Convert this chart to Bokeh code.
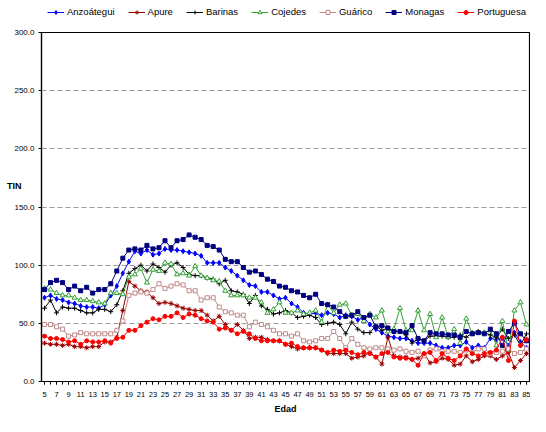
from bokeh.plotting import figure
from bokeh.layouts import column
from bokeh.models import Range1d, FixedTicker, Legend, LegendItem, LinearAxis, NumeralTickFormatter
from bokeh.embed import file_html
from bokeh.resources import INLINE

ages = list(range(5, 86))

anzoategui = [72, 74, 71, 70, 68, 67, 65, 64, 64, 63, 66, 74, 82, 93, 103, 112, 110, 113, 109, 110,
              114, 113, 113, 112, 111, 110, 108, 102, 102, 102, 98, 95, 91, 87, 83, 82, 77, 77, 74, 71,
              72, 67, 64, 59, 58, 59, 57, 59, 58, 55, 57, 56, 53, 55, 49, 45, 42, 39, 38, 37,
              37, 35, 33, 33, 33, 31, 29, 29, 31, 31, 34, 29, 31, 29, 37, 36, 37, 31, 42, 34, 29]
apure = [33, 32, 32, 31, 32, 30, 30, 29, 30, 30, 34, 34, 38, 61, 86, 82, 78, 77, 72, 67,
         68, 67, 65, 63, 62, 61, 61, 57, 52, 56, 49, 44, 49, 44, 37, 38, 38, 36, 35, 35,
         32, 30, 28, 29, 29, 29, 27, 24, 24, 24, 24, 20, 21, 22, 25, 21, 15, 38, 22, 21,
         21, 19, 20, 24, 16, 17, 20, 19, 14, 15, 22, 17, 19, 22, 22, 19, 22, 25, 12, 18, 24]
barinas = [63, 70, 59, 64, 63, 63, 61, 59, 59, 62, 62, 60, 66, 78, 93, 97, 100, 95, 101, 98,
           94, 100, 102, 98, 92, 91, 91, 89, 88, 84, 87, 78, 77, 75, 67, 74, 65, 62, 58, 59,
           61, 59, 55, 56, 57, 55, 49, 50, 51, 49, 41, 51, 45, 42, 42, 48, 44, 46, 43, 43,
           40, 33, 37, 35, 39, 39, 39, 38, 38, 40, 38, 42, 43, 42, 40, 38, 45, 37, 40, 31, 41]
cojedes = [80, 79, 76, 74, 74, 72, 70, 70, 69, 68, 67, 76, 76, 75, 90, 92, 97, 85, 96, 95,
           102, 101, 92, 93, 91, 99, 91, 89, 87, 86, 78, 74, 74, 74, 72, 72, 68, 59, 62, 68,
           59, 59, 61, 58, 59, 61, 51, 66, 59, 66, 67, 57, 58, 52, 58, 55, 61, 43, 45, 63,
           44, 44, 61, 44, 58, 38, 55, 38, 45, 33, 54, 41, 42, 42, 44, 31, 52, 27, 61, 68, 49]
guarico = [49, 49, 47, 45, 39, 40, 42, 41, 41, 41, 41, 41, 44, 52, 74, 76, 77, 76, 79, 84,
           80, 82, 84, 83, 78, 78, 70, 72, 72, 64, 60, 59, 57, 57, 47, 51, 49, 47, 44, 41,
           41, 39, 41, 35, 34, 35, 37, 37, 43, 37, 29, 37, 32, 29, 28, 29, 29, 28, 27, 28,
           26, 25, 26, 22, 27, 28, 26, 26, 26, 25, 27, 25, 28, 28, 24, 25, 26, 28, 24, 25, 28]
monagas = [79, 85, 87, 85, 79, 82, 78, 81, 76, 79, 79, 84, 95, 106, 113, 114, 113, 117, 114, 115,
           121, 115, 121, 122, 126, 124, 122, 117, 116, 113, 105, 103, 103, 98, 94, 95, 92, 88, 86, 82,
           81, 78, 77, 74, 72, 75, 67, 66, 64, 60, 56, 57, 60, 55, 57, 47, 48, 46, 43, 43,
           42, 48, 37, 35, 42, 41, 41, 40, 40, 38, 43, 41, 42, 41, 45, 41, 31, 43, 50, 41, 35]
portuguesa = [39, 37, 37, 36, 34, 35, 32, 35, 34, 34, 35, 33, 37, 38, 44, 44, 48, 51, 54, 53,
              56, 56, 59, 55, 58, 57, 54, 52, 51, 45, 46, 44, 41, 43, 41, 37, 35, 35, 35, 35,
              32, 33, 30, 29, 29, 29, 27, 25, 27, 26, 27, 25, 23, 25, 24, 21, 24, 25, 21, 20,
              20, 19, 14, 24, 25, 18, 24, 20, 18, 22, 28, 24, 22, 24, 25, 27, 38, 18, 52, 31, 36]

names = ["Anzoátegui", "Apure", "Barinas", "Cojedes", "Guárico", "Monagas", "Portuguesa"]
series = [anzoategui, apure, barinas, cojedes, guarico, monagas, portuguesa]
colors = ["#0000FF", "#990000", "#000000", "#33A033", "#C08A8A", "#000080", "#FF0000"]
markers = ["diamond", "asterisk", "cross", "triangle", "square", "square", "circle"]
sizes = [5, 5, 5, 5, 4, 4, 4]
fills = [True, False, False, False, False, True, True]

odd_ticks = list(range(5, 86, 2))
y_ticks = [0, 50, 100, 150, 200, 250, 300]
grid_ticks = [50, 100, 150, 200, 250]
y_title = "TIN"
y_title_pos = 168

FONT = "Liberation Sans"
W = 530
LEG_H = 22
MAIN_H = 416 - LEG_H

# ---- legend strip (separate figure so the legend is not clipped) ----
lf = figure(width=W, height=LEG_H, output_backend="svg", toolbar_location=None,
            x_range=Range1d(0, 1), y_range=Range1d(0, 1),
            min_border_left=0, min_border_right=0, min_border_top=0, min_border_bottom=0)
lf.axis.visible = False
lf.grid.visible = False
lf.outline_line_color = None
lf.background_fill_color = "white"
lf.border_fill_color = "white"

# ---- main chart ----
p = figure(width=W, height=MAIN_H, output_backend="svg", toolbar_location=None,
           x_range=Range1d(4.5, 85.5), y_range=Range1d(0, 300),
           min_border_left=41, min_border_right=1, min_border_top=32 - LEG_H, min_border_bottom=35)

p.background_fill_color = "white"
p.border_fill_color = "white"
p.outline_line_color = "black"
p.outline_line_width = 1.2

p.xgrid.grid_line_color = None
p.ygrid.ticker = FixedTicker(ticks=grid_ticks)
p.ygrid.grid_line_color = "#9a9a9a"
p.ygrid.grid_line_dash = "5 3"
p.ygrid.grid_line_width = 1

p.xaxis.ticker = FixedTicker(ticks=odd_ticks, minor_ticks=ages)
p.yaxis.ticker = FixedTicker(ticks=y_ticks)
p.yaxis.formatter = NumeralTickFormatter(format="0.0")

for ax in (p.xaxis[0], p.yaxis[0]):
    ax.axis_line_color = "black"
    ax.axis_line_width = 1.2
    ax.major_tick_line_color = "black"
    ax.minor_tick_line_color = "black"
    ax.major_tick_in = 0
    ax.major_tick_out = 3
    ax.minor_tick_in = 0
    ax.minor_tick_out = 3
    ax.major_label_text_font = FONT
    ax.major_label_text_color = "#000000"

p.yaxis.minor_tick_line_color = None
p.yaxis.major_label_text_font_size = "8px"
p.yaxis.major_label_standoff = 4
p.xaxis.major_label_text_font_size = "7.5px"
p.xaxis.major_label_standoff = 7

p.xaxis.axis_label = "Edad"
p.xaxis.axis_label_text_font = FONT
p.xaxis.axis_label_text_font_size = "9px"
p.xaxis.axis_label_text_font_style = "bold"
p.xaxis.axis_label_text_color = "#000000"
p.xaxis.axis_label_standoff = 4

# horizontal "TIN" title as a second, line-less left axis
tin_axis = LinearAxis(ticker=FixedTicker(ticks=[y_title_pos]),
                      major_label_overrides={y_title_pos: y_title},
                      axis_line_color=None, major_tick_line_color=None,
                      minor_tick_line_color=None, major_tick_out=0, major_tick_in=0,
                      minor_tick_out=0, minor_tick_in=0,
                      major_label_standoff=-10,
                      major_label_text_font=FONT, major_label_text_font_size="9px",
                      major_label_text_font_style="bold", major_label_text_color="#000000")
p.add_layout(tin_axis, "left")

items = []
for name, ys, col, mk, sz, filled in zip(names, series, colors, markers, sizes, fills):
    fc = col if filled else "white"
    p.line(ages, ys, line_color=col, line_width=1)
    p.scatter(ages, ys, marker=mk, size=sz, line_color=col, fill_color=fc, line_width=1)
    # legend sample glyphs: one point far outside the strip's visible range
    lr = lf.line([-5, -4], [-5, -5], line_color=col, line_width=1)
    sr = lf.scatter([-5], [-5], marker=mk, size=sz, line_color=col, fill_color=fc, line_width=1)
    items.append(LegendItem(label=name, renderers=[lr, sr]))

legend = Legend(items=items, orientation="horizontal", location=(6, 5),
                glyph_width=17, glyph_height=10, label_height=10, label_standoff=3,
                spacing=13, padding=0, margin=0, border_line_color=None,
                background_fill_alpha=0,
                label_text_font=FONT, label_text_font_size="9.5px",
                label_text_color="#000000")
lf.add_layout(legend, "center")

layout = column(lf, p, spacing=0)
open("out.html", "w").write(file_html(layout, INLINE))
